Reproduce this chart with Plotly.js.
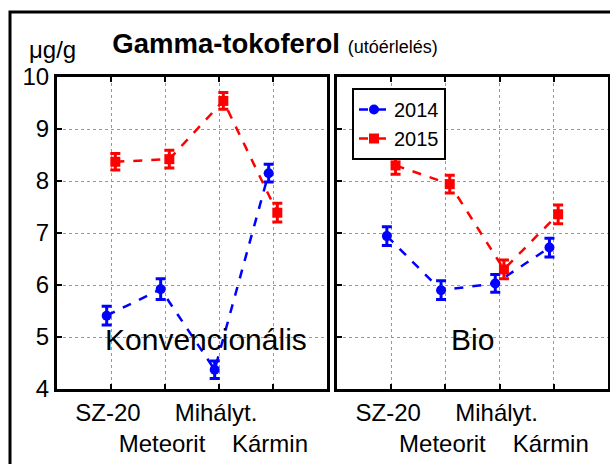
<!DOCTYPE html>
<html>
<head>
<meta charset="utf-8">
<script src="https://cdn.plot.ly/plotly-3.0.1.min.js"></script>
<style>html,body{margin:0;padding:0;background:#fff;}#chart{width:610px;height:464px;}</style>
</head>
<body>
<div id="chart"></div>
<script>
// ---- data ----
const categories = ['SZ-20', 'Meteorit', 'Mihályt.', 'Kármin'];
const seriesNames = ['2014', '2015'];
const konv2014 = [5.41, 5.92, 4.37, 8.15];
const konv2014Err = [0.18, 0.2, 0.17, 0.17];
const konv2015 = [8.37, 8.42, 9.54, 7.39];
const konv2015Err = [0.16, 0.17, 0.16, 0.18];
const bio2014 = [6.94, 5.90, 6.03, 6.72];
const bio2014Err = [0.18, 0.18, 0.17, 0.18];
const bio2015 = [8.30, 7.94, 6.30, 7.36];
const bio2015Err = [0.17, 0.17, 0.18, 0.18];
const yTicks = [4, 5, 6, 7, 8, 9, 10];
const panelLabels = ['Konvencionális', 'Bio'];

// ---- style ----
const FONT = 'Liberation Sans, Arial, sans-serif';
const colors = {'2014': '#0000ff', '2015': '#ff0000'};
const symbols = {'2014': 'circle', '2015': 'square'};
const dodge = {'2014': -0.08, '2015': 0.08};

function trace(name, vals, errs, xa, ya, showLegend) {
  return {
    type: 'scatter', mode: 'lines+markers', name: name,
    x: categories.map((c, i) => i + 1 + dodge[name]),
    y: vals,
    xaxis: xa, yaxis: ya,
    showlegend: showLegend,
    line: {color: colors[name], width: 2.5, dash: 'dash'},
    marker: {color: colors[name], symbol: symbols[name], size: 10},
    error_y: {type: 'data', array: errs, visible: true, color: colors[name], thickness: 3, width: 5}
  };
}

const data = [
  trace('2014', konv2014, konv2014Err, 'x', 'y', false),
  trace('2015', konv2015, konv2015Err, 'x', 'y', false),
  trace('2014', bio2014, bio2014Err, 'x2', 'y2', true),
  trace('2015', bio2015, bio2015Err, 'x2', 'y2', true)
];

const tickText = categories.map((c, i) => (i % 2 === 1 ? '<br>' + c : c));

function xAxis(domain, anchor) {
  return {
    domain: domain, anchor: anchor, range: [0, 5],
    tickmode: 'array', tickvals: categories.map((c, i) => i + 1), ticktext: tickText,
    tickangle: 0,
    tickfont: {family: FONT, size: 24, color: '#000'},
    ticks: 'inside', ticklen: 5, tickwidth: 2, tickcolor: '#000',
    ticklabelshift: -3,
    showgrid: true, gridcolor: '#999', griddash: 'dot', gridwidth: 1,
    showline: true, linecolor: '#000', linewidth: 3, mirror: 'allticks',
    zeroline: false, fixedrange: true
  };
}
function yAxis(domain, anchor, labels) {
  return {
    domain: domain, anchor: anchor, range: [4, 10],
    tickmode: 'array', tickvals: yTicks, ticktext: yTicks.map(String),
    showticklabels: labels,
    tickfont: {family: FONT, size: 24, color: '#000'},
    ticks: 'inside', ticklen: 5, tickwidth: 2, tickcolor: '#000',
    showgrid: true, gridcolor: '#999', griddash: 'dot', gridwidth: 1,
    showline: true, linecolor: '#000', linewidth: 3, mirror: true,
    zeroline: false, fixedrange: true
  };
}
function rightAxis(over, anchor) {
  return {
    overlaying: over, anchor: anchor, side: 'right', range: [0, 8], dtick: 1,
    showticklabels: false, ticks: 'inside', ticklen: 5, tickwidth: 2, tickcolor: '#000',
    showgrid: false, showline: false, zeroline: false, fixedrange: true
  };
}

const xd1 = [57 / 610, 327 / 610];
const xd2 = [337 / 610, 608 / 610];
const yd = [1 - 389 / 464, 1 - 77 / 464];

const layout = {
  width: 610, height: 464,
  margin: {l: 0, r: 0, t: 0, b: 0},
  paper_bgcolor: '#fff', plot_bgcolor: '#fff',
  font: {family: FONT, color: '#000'},
  showlegend: true,
  title: {
    text: '<b>Gamma-tokoferol</b> <span style="font-size:18px">(utóérlelés)</span>',
    font: {family: FONT, size: 27.5, color: '#000'},
    x: 275 / 610, xanchor: 'center', xref: 'paper',
    y: 1 - 43 / 464, yanchor: 'middle', yref: 'paper'
  },
  xaxis: xAxis(xd1, 'y'),
  yaxis: yAxis(yd, 'x', true),
  xaxis2: xAxis(xd2, 'y2'),
  yaxis2: yAxis(yd, 'x2', false),
  yaxis3: rightAxis('y', 'x'),
  yaxis4: rightAxis('y2', 'x2'),
  legend: {
    x: 352 / 610, xanchor: 'left', y: 1 - 88 / 464, yanchor: 'top',
    bgcolor: '#fff', bordercolor: '#000', borderwidth: 2,
    font: {family: FONT, size: 20, color: '#000'},
    tracegroupgap: 0, itemwidth: 30
  },
  annotations: [
    {text: 'μg/g', xref: 'paper', yref: 'paper', x: 52 / 610, y: 1 - 50 / 464,
     xanchor: 'center', yanchor: 'middle', showarrow: false,
     font: {family: FONT, size: 24, color: '#000'}},
    {text: panelLabels[0], xref: 'x', yref: 'y', x: 2.75, y: 4.95,
     xanchor: 'center', yanchor: 'middle', showarrow: false,
     font: {family: FONT, size: 30, color: '#000'}},
    {text: panelLabels[1], xref: 'x2', yref: 'y2', x: 2.5, y: 4.95,
     xanchor: 'center', yanchor: 'middle', showarrow: false,
     font: {family: FONT, size: 30, color: '#000'}}
  ],
  shapes: [
    {type: 'rect', xref: 'paper', yref: 'paper', x0: 10 / 610, x1: 1.05, y0: -0.05, y1: 1 - 12 / 464,
     line: {color: '#000', width: 3}, fillcolor: 'rgba(0,0,0,0)', layer: 'below'}
  ]
};

Plotly.newPlot('chart', data, layout, {displayModeBar: false, staticPlot: true});
</script>
</body>
</html>
